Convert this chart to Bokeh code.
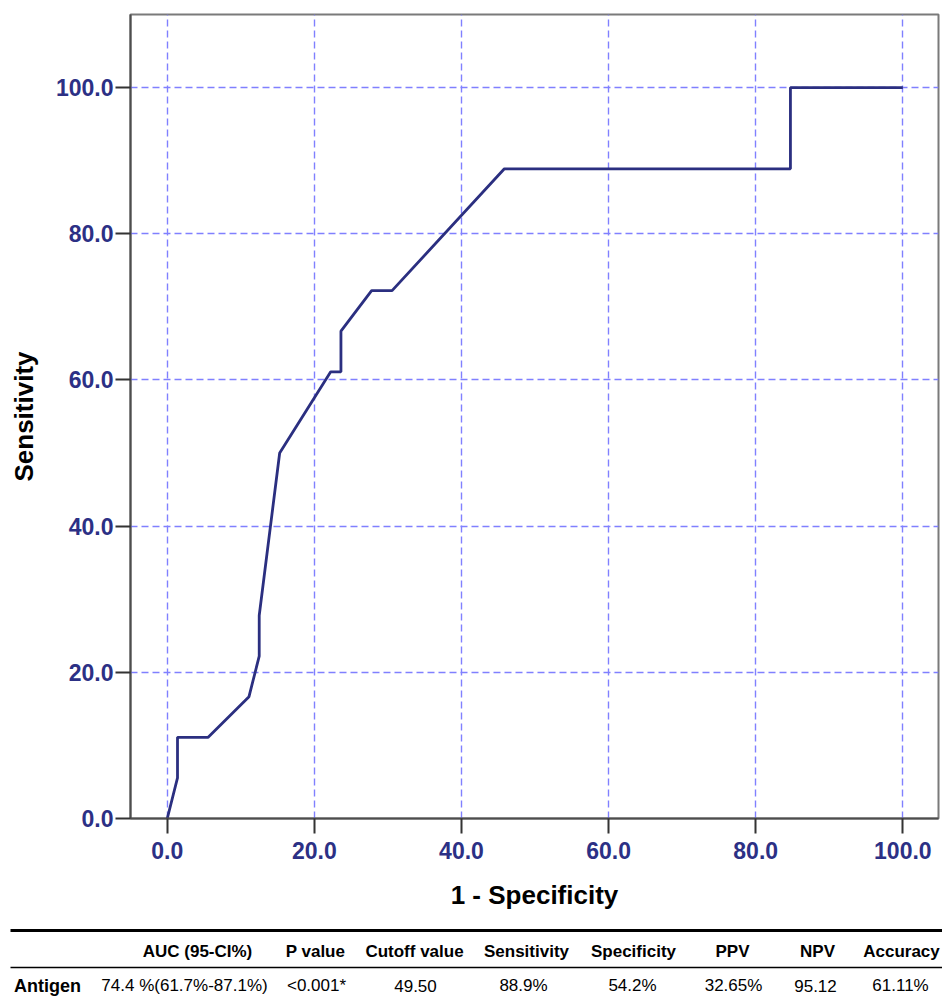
from bokeh.plotting import figure
from bokeh.layouts import column
from bokeh.models import Range1d, FixedTicker, PrintfTickFormatter, ColumnDataSource
from bokeh.core.properties import value
from bokeh.embed import file_html
from bokeh.resources import INLINE

# ROC curve data (1 - specificity, sensitivity), in %
fpr = [0, 1.39, 1.39, 5.56, 11.11, 12.5, 12.5, 15.28, 22.22, 23.61, 23.61,
       27.78, 30.56, 45.83, 84.72, 84.72, 100]
tpr = [0, 5.56, 11.11, 11.11, 16.67, 22.22, 27.78, 50.0, 61.11, 61.11, 66.67,
       72.22, 72.22, 88.89, 88.89, 100, 100]
ticks = [0, 20, 40, 60, 80, 100]

# Summary table
headers = ["AUC (95-CI%)", "P value", "Cutoff value", "Sensitivity",
           "Specificity", "PPV", "NPV", "Accuracy"]
row_label = "Antigen"
row_values = ["74.4 %(61.7%-87.1%)", "<0.001*", "49.50", "88.9%", "54.2%",
              "32.65%", "95.12", "61.11%"]

NAVY = "#2b2f80"
TICKC = "#2c3085"
GRID = "#8080ff"
AXIS_FONT = "Liberation Sans"
TABLE_FONT = "Liberation Sans"

W = 942
p = figure(width=W, height=914, output_backend="svg", toolbar_location=None,
           x_range=Range1d(-5, 104.85), y_range=Range1d(0, 110),
           min_border_left=130, min_border_right=4, min_border_top=14,
           min_border_bottom=96)
p.frame_align = False
p.line(fpr, tpr, line_color=NAVY, line_width=2.8)

for ax in (p.xaxis[0], p.yaxis[0]):
    ax.ticker = FixedTicker(ticks=ticks)
    ax.formatter = PrintfTickFormatter(format="%.1f")
    ax.major_tick_out = 15
    ax.major_tick_in = 0
    ax.minor_tick_out = 0
    ax.minor_tick_in = 0
    ax.axis_line_color = "#4d4d4d"
    ax.axis_line_width = 2
    ax.major_tick_line_color = "#333333"
    ax.major_tick_line_width = 2
    ax.major_label_text_font = AXIS_FONT
    ax.major_label_text_font_style = "bold"
    ax.major_label_text_font_size = "23px"
    ax.major_label_text_color = TICKC
    ax.axis_label_text_font = AXIS_FONT
    ax.axis_label_text_font_style = "bold"
    ax.axis_label_text_font_size = "26px"
    ax.axis_label_text_color = "black"

p.xaxis.axis_label = "1 - Specificity"
p.yaxis.axis_label = "Sensitivity"
p.xaxis.major_label_standoff = 8
p.yaxis.major_label_standoff = 2
p.xaxis.axis_label_standoff = 18
p.yaxis.axis_label_standoff = 14

for g in (p.xgrid[0], p.ygrid[0]):
    g.ticker = FixedTicker(ticks=ticks)
    g.grid_line_color = GRID
    g.grid_line_dash = "7 4"
    g.grid_line_width = 1.4

p.outline_line_color = "#7a7a7a"
p.outline_line_width = 2
p.background_fill_color = "white"

# Table figure (screen-like coordinates, y downward)
TH = 82
t = figure(width=W, height=TH, output_backend="svg", toolbar_location=None,
           x_range=Range1d(0, W), y_range=Range1d(TH, 0),
           min_border=0)
t.frame_align = False
t.axis.visible = False
t.grid.visible = False
t.outline_line_color = None

t.segment(x0=[10], y0=[16], x1=[W], y1=[16], line_color="black", line_width=3)
t.segment(x0=[10], y0=[53], x1=[W], y1=[53], line_color="black", line_width=1.5)

head_x = [197, 315, 414, 526, 633, 732, 817, 901]
row_x = [184, 316, 415, 523, 632, 733, 815, 900]

hsrc = ColumnDataSource(dict(x=head_x, y=[37] * len(headers), text=headers))
t.text(x="x", y="y", text="text", source=hsrc, text_align="center",
       text_baseline="middle", text_font=value(TABLE_FONT),
       text_font_style="bold", text_font_size="17px", text_color="black")
rsrc = ColumnDataSource(dict(x=row_x, y=[71] * len(row_values), text=row_values))
t.text(x="x", y="y", text="text", source=rsrc, text_align="center",
       text_baseline="middle", text_font=value(TABLE_FONT),
       text_font_size="17px", text_color="black")
t.text(x=[47], y=[71], text=[row_label], text_align="center",
       text_baseline="middle", text_font=value(TABLE_FONT),
       text_font_style="bold", text_font_size="18px", text_color="black")

layout = column(p, t, spacing=0)
open("out.html", "w").write(file_html(layout, INLINE))
